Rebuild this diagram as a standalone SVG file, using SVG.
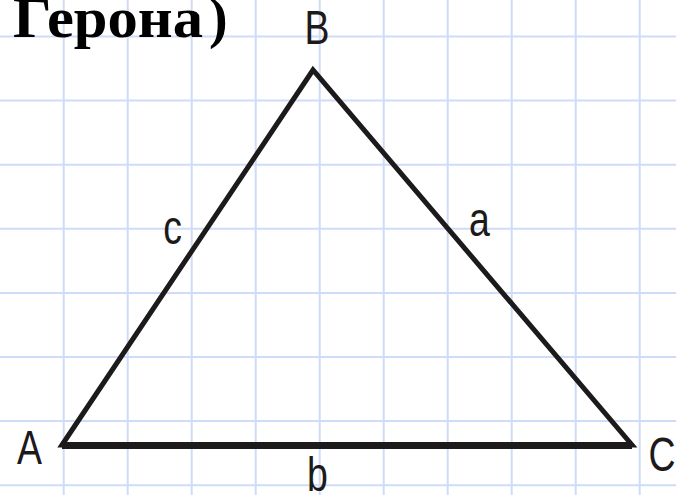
<svg xmlns="http://www.w3.org/2000/svg" width="676" height="495" viewBox="0 0 676 495">
<style>
.grid line{stroke:#cfdbf7;stroke-width:2}
.lbl{font-family:"Liberation Sans",Arial,sans-serif;font-size:48px;fill:#1c1a1a;text-anchor:middle}
.title{font-family:"Liberation Serif","Times New Roman",serif;font-size:56px;font-weight:bold;fill:#000}
</style>
<rect width="676" height="495" fill="#ffffff"/>
<g class="grid" id="grid">
<line x1="63.7" y1="0" x2="63.7" y2="495"/>
<line x1="127.7" y1="0" x2="127.7" y2="495"/>
<line x1="191.7" y1="0" x2="191.7" y2="495"/>
<line x1="255.7" y1="0" x2="255.7" y2="495"/>
<line x1="319.7" y1="0" x2="319.7" y2="495"/>
<line x1="383.7" y1="0" x2="383.7" y2="495"/>
<line x1="447.7" y1="0" x2="447.7" y2="495"/>
<line x1="511.7" y1="0" x2="511.7" y2="495"/>
<line x1="575.7" y1="0" x2="575.7" y2="495"/>
<line x1="639.7" y1="0" x2="639.7" y2="495"/>
<line x1="0" y1="36.5" x2="676" y2="36.5"/>
<line x1="0" y1="100.6" x2="676" y2="100.6"/>
<line x1="0" y1="164.7" x2="676" y2="164.7"/>
<line x1="0" y1="228.8" x2="676" y2="228.8"/>
<line x1="0" y1="292.9" x2="676" y2="292.9"/>
<line x1="0" y1="357" x2="676" y2="357"/>
<line x1="0" y1="421.1" x2="676" y2="421.1"/>
<line x1="0" y1="485.2" x2="676" y2="485.2"/>
</g>
<g id="title">
<text class="title" x="13" y="37" textLength="190" lengthAdjust="spacingAndGlyphs">Герона</text>
<text class="title" x="209" y="37">)</text>
</g>
<g id="connectors">
<polygon points="62,445 313,70 632,445" fill="none" stroke="#1c1a1a" stroke-width="5" stroke-linejoin="miter" stroke-miterlimit="10"/>
<line x1="62" y1="445.5" x2="632" y2="445.5" stroke="#1c1a1a" stroke-width="7"/>
</g>
<g id="vertex-A"><text class="lbl" transform="translate(29.5,464) scale(0.78,1)">A</text></g>
<g id="vertex-B"><text class="lbl" transform="translate(317,44) scale(0.78,1)">B</text></g>
<g id="vertex-C"><text class="lbl" transform="translate(662,471) scale(0.78,1)">C</text></g>
<g id="side-a"><text class="lbl" transform="translate(479.5,236) scale(0.78,1)">a</text></g>
<g id="side-b"><text class="lbl" transform="translate(317.5,491) scale(0.78,1)">b</text></g>
<g id="side-c"><text class="lbl" transform="translate(172.5,244) scale(0.78,1)">c</text></g>
</svg>
